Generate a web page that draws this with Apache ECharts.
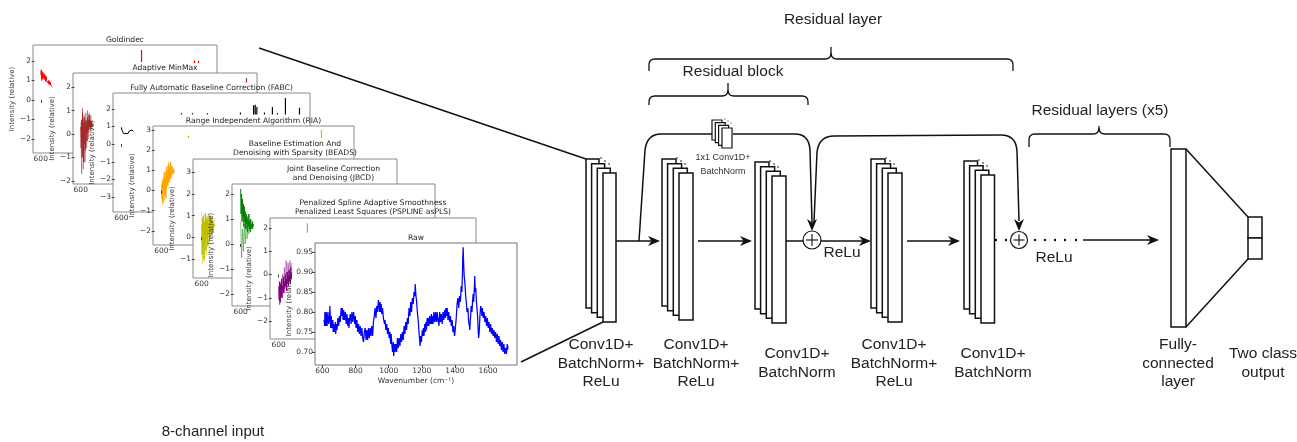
<!DOCTYPE html>
<html><head><meta charset="utf-8">
<script src="https://cdn.jsdelivr.net/npm/echarts@6/dist/echarts.min.js"></script>
<style>html,body{margin:0;padding:0;background:#fff}#c{width:1297px;height:442px}</style>
</head><body><div id="c"></div>
<script>
// ---------------- DATA ----------------
const panelTitles = [
  ['Goldindec'],
  ['Adaptive MinMax'],
  ['Fully Automatic Baseline Correction (FABC)'],
  ['Range Independent Algorithm (RIA)'],
  ['Baseline Estimation And', 'Denoising with Sparsity (BEADS)'],
  ['Joint Baseline Correction', 'and Denoising (JBCD)'],
  ['Penalized Spline Adaptive Smoothness', 'Penalized Least Squares (PSPLINE asPLS)'],
  ['Raw']
];
const smallYTicks = [
  [-2, -1, 0, 1, 2],
  [-2, -1, 0, 1, 2],
  [-3, -2, -1, 0, 1, 2],
  [-2, -1, 0, 1, 2, 3],
  [-1, 0, 1, 2, 3],
  [-2, -1, 0, 1, 2],
  [-2, -1, 0, 1, 2]
];
const smallXTicks = [600];
const rawXTicks = [600, 800, 1000, 1200, 1400, 1600];
const rawYTicks = [0.70, 0.75, 0.80, 0.85, 0.90, 0.95];

const bandWavenumbers = [610,650,690,730,770,810,850,890,930,970,1010,1050,1090,1130,1170,1210,1250,1290,1330,1370,1410,1450,1490,1530,1570,1610,1650,1690,1720];
const faintWavenumbers = [610,690,770,850,930,1010,1090,1170,1250,1330,1410,1490,1570,1650,1720];

const goldindecCore = [1.3,1.55,1.0,1.45,1.1,1.4,1.15,1.35,1.05,1.3,1.1,1.25,0.95,1.2,1.0,1.1,0.9,1.05,0.85,1.0,0.8,0.95,0.78,0.9,0.75,0.85,0.7,0.8,0.68];
const goldindecSpikes = [[10350,1.95,2.56],[15470,1.9,2.03],[15860,1.88,2.0]];

const minmaxCore = [0.3,-0.6,0.6,-1.0,0.9,-0.8,0.5,-1.2,0.7,-0.4,0.4,-0.7,0.6,0.0,0.5,-0.3,0.7,0.1,0.6,0.2,0.8,0.3,0.6,0.2,0.55,0.3,0.5,0.35,0.4];
const minmaxFaint = [0.5,-1.7,1.1,-1.5,0.8,-1.2,0.9,-0.6,1.0,-0.2,0.9,0.1,0.8,0.2,0.6];
const minmaxSpikes = [[16630,2.2,2.38]];

const fabcCore = [0.95,0.8,0.9,0.7,0.85,0.6,0.7,0.55,0.65,0.5,0.6,0.55,0.6,0.58,0.65,0.6,0.7,0.65,0.75,0.7,0.8,0.7,0.75,0.72,0.8,0.75,0.8,0.72,0.8];
const fabcSpikes = [[6035,1.68,1.75],[7030,1.68,1.75],[8380,1.68,1.75],[11365,1.68,1.8],[12550,1.68,2.2],[12700,1.68,2.23],[12850,1.68,2.1],[13535,1.68,1.8],[14255,1.68,2.11],[14710,1.68,1.76],[15430,1.68,2.62],[16700,1.68,2.06]];

const riaCore = [0.3,-0.4,0.5,-0.6,0.6,-0.2,0.9,0.0,0.7,-0.3,1.0,0.1,1.2,0.3,0.9,0.4,1.3,0.5,1.1,0.6,1.4,0.7,1.2,0.8,1.0,0.9,1.1,0.9,1.0];
const riaFaint = [0.0,-0.7,0.4,-0.5,0.8,-0.4,1.0,0.2,1.45,0.4,1.3,0.6,1.2,0.8,1.0];
const riaSpikes = [[2990,2.6,2.72],[14770,2.6,3.0]];

const beadsCore = [0.6,-0.8,0.9,-0.5,1.0,-1.0,0.7,-0.3,1.1,-0.6,0.8,0.0,0.9,-0.4,0.6,0.2,1.0,-0.2,0.7,0.3,0.9,0.1,0.8,0.4,0.7,0.2,0.6,0.5,0.6];
const beadsFaint = [1.2,-1.2,0.9,-1.1,1.1,-0.8,1.0,-0.5,1.1,0.0,1.0,0.3,0.9,0.5,0.8];

const jbcdCore = [2.2,1.2,2.0,0.9,1.8,1.1,1.6,0.7,1.5,0.9,1.3,0.6,1.2,0.8,1.1,0.5,1.0,0.7,1.2,0.6,0.9,0.5,1.0,0.7,0.8,0.6,0.9,0.7,0.8];
const jbcdFaint = [0.9,-0.55,0.6,-0.3,0.8,0.0,1.0,0.2,0.7,0.4,0.9,0.5,0.8,0.6,0.7];

const psplineCore = [-0.5,-1.1,-0.3,-1.2,-0.4,-0.9,-0.2,-1.0,-0.5,-0.7,-0.1,-0.8,-0.3,-0.6,0.0,-0.5,-0.2,-0.7,0.1,-0.4,-0.1,-0.5,0.2,-0.3,0.0,-0.4,0.3,-0.2,0.1];
const psplineFaint = [-0.6,-1.3,-0.4,-1.0,0.0,-0.8,0.3,-0.5,0.6,-0.3,0.5,0.0,0.6,0.2,0.5];
const psplineSpikes = [[3080,1.8,2.2]];

const rawSpectrum = [
[610,0.78],[613,0.765],[615,0.80],[618,0.775],[620,0.765],[623,0.80],[625,0.79],[628,0.765],[630,0.77],[633,0.80],[635,0.795],[638,0.77],[640,0.765],[643,0.79],[645,0.815],[648,0.775],[650,0.76],[653,0.79],[655,0.785],[658,0.76],[660,0.765],[663,0.78],[665,0.75],[668,0.77],[670,0.775],[673,0.75],[675,0.755],[678,0.775],[680,0.745],[683,0.76],[685,0.77],[688,0.755],[690,0.76],[693,0.785],[695,0.78],[698,0.765],[700,0.76],[703,0.79],[705,0.785],[708,0.775],[710,0.79],[713,0.81],[715,0.805],[718,0.79],[720,0.81],[723,0.79],[725,0.78],[728,0.805],[730,0.80],[733,0.78],[735,0.775],[738,0.80],[740,0.795],[743,0.77],[745,0.77],[748,0.795],[750,0.79],[753,0.765],[755,0.765],[758,0.785],[760,0.76],[763,0.78],[765,0.78],[768,0.795],[770,0.79],[773,0.77],[775,0.77],[778,0.80],[780,0.795],[783,0.775],[785,0.775],[788,0.80],[790,0.805],[793,0.78],[795,0.77],[798,0.79],[800,0.78],[803,0.76],[805,0.765],[808,0.78],[810,0.77],[813,0.75],[815,0.75],[818,0.77],[820,0.765],[823,0.745],[825,0.745],[828,0.765],[830,0.76],[833,0.74],[835,0.735],[838,0.76],[840,0.755],[843,0.735],[845,0.74],[848,0.725],[850,0.72],[853,0.75],[855,0.745],[858,0.76],[860,0.75],[863,0.73],[865,0.73],[868,0.755],[870,0.745],[873,0.73],[875,0.735],[878,0.76],[880,0.755],[883,0.735],[885,0.74],[888,0.76],[890,0.755],[893,0.74],[895,0.745],[898,0.765],[900,0.76],[903,0.74],[905,0.745],[908,0.775],[910,0.775],[913,0.79],[915,0.79],[918,0.81],[920,0.805],[923,0.785],[925,0.795],[928,0.815],[930,0.815],[933,0.80],[935,0.805],[938,0.83],[940,0.835],[943,0.81],[945,0.80],[948,0.825],[950,0.815],[953,0.80],[955,0.82],[958,0.795],[960,0.79],[963,0.81],[965,0.805],[968,0.785],[970,0.78],[973,0.79],[975,0.77],[978,0.78],[980,0.775],[983,0.755],[985,0.76],[988,0.77],[990,0.765],[993,0.745],[995,0.745],[998,0.76],[1000,0.755],[1003,0.735],[1005,0.735],[1008,0.75],[1010,0.73],[1013,0.72],[1015,0.745],[1018,0.725],[1020,0.72],[1023,0.70],[1025,0.71],[1028,0.725],[1030,0.69],[1033,0.705],[1035,0.72],[1038,0.70],[1040,0.70],[1043,0.72],[1045,0.725],[1048,0.70],[1050,0.71],[1053,0.735],[1055,0.73],[1058,0.71],[1060,0.715],[1063,0.735],[1065,0.735],[1068,0.715],[1070,0.72],[1073,0.745],[1075,0.745],[1078,0.725],[1080,0.73],[1083,0.75],[1085,0.745],[1088,0.73],[1090,0.735],[1093,0.765],[1095,0.765],[1098,0.745],[1100,0.75],[1103,0.775],[1105,0.77],[1108,0.755],[1110,0.76],[1113,0.785],[1115,0.785],[1118,0.77],[1120,0.79],[1123,0.81],[1125,0.805],[1128,0.79],[1130,0.80],[1133,0.825],[1135,0.82],[1138,0.80],[1140,0.805],[1143,0.835],[1145,0.84],[1148,0.82],[1150,0.83],[1153,0.85],[1155,0.855],[1158,0.84],[1160,0.87],[1163,0.85],[1165,0.84],[1168,0.83],[1170,0.825],[1173,0.80],[1175,0.80],[1178,0.78],[1180,0.77],[1183,0.75],[1185,0.745],[1188,0.725],[1190,0.715],[1193,0.74],[1195,0.745],[1198,0.725],[1200,0.73],[1203,0.755],[1205,0.755],[1208,0.74],[1210,0.76],[1213,0.74],[1215,0.745],[1218,0.77],[1220,0.765],[1223,0.75],[1225,0.775],[1228,0.755],[1230,0.76],[1233,0.785],[1235,0.78],[1238,0.765],[1240,0.785],[1243,0.765],[1245,0.765],[1248,0.79],[1250,0.79],[1253,0.77],[1255,0.775],[1258,0.795],[1260,0.77],[1263,0.765],[1265,0.79],[1268,0.77],[1270,0.78],[1273,0.80],[1275,0.795],[1278,0.775],[1280,0.775],[1283,0.80],[1285,0.80],[1288,0.775],[1290,0.78],[1293,0.80],[1295,0.795],[1298,0.775],[1300,0.785],[1303,0.765],[1305,0.775],[1308,0.80],[1310,0.795],[1313,0.775],[1315,0.78],[1318,0.795],[1320,0.79],[1323,0.77],[1325,0.78],[1328,0.80],[1330,0.80],[1333,0.78],[1335,0.785],[1338,0.805],[1340,0.805],[1343,0.785],[1345,0.81],[1348,0.79],[1350,0.79],[1353,0.81],[1355,0.80],[1358,0.78],[1360,0.785],[1363,0.80],[1365,0.795],[1368,0.775],[1370,0.78],[1373,0.79],[1375,0.785],[1378,0.765],[1380,0.765],[1383,0.78],[1385,0.77],[1388,0.75],[1390,0.755],[1393,0.765],[1395,0.75],[1398,0.74],[1400,0.745],[1403,0.76],[1405,0.76],[1408,0.785],[1410,0.785],[1413,0.82],[1415,0.82],[1418,0.835],[1420,0.835],[1423,0.81],[1425,0.815],[1428,0.84],[1430,0.84],[1433,0.825],[1435,0.83],[1438,0.865],[1440,0.865],[1442,0.85],[1444,0.85],[1446,0.90],[1447,0.93],[1449,0.95],[1450,0.962],[1452,0.93],[1453,0.92],[1455,0.90],[1456,0.89],[1458,0.885],[1460,0.875],[1463,0.855],[1465,0.84],[1468,0.835],[1470,0.82],[1473,0.80],[1475,0.795],[1478,0.81],[1480,0.80],[1483,0.775],[1485,0.77],[1488,0.765],[1490,0.755],[1493,0.78],[1495,0.79],[1498,0.815],[1500,0.82],[1503,0.80],[1505,0.80],[1508,0.835],[1510,0.845],[1513,0.825],[1515,0.83],[1518,0.865],[1520,0.89],[1522,0.86],[1524,0.85],[1526,0.86],[1528,0.84],[1531,0.82],[1533,0.81],[1536,0.795],[1538,0.78],[1541,0.75],[1543,0.735],[1546,0.745],[1548,0.76],[1551,0.79],[1553,0.80],[1556,0.815],[1558,0.82],[1561,0.80],[1563,0.79],[1566,0.81],[1568,0.805],[1571,0.785],[1573,0.78],[1576,0.80],[1578,0.795],[1581,0.775],[1583,0.77],[1586,0.79],[1588,0.785],[1591,0.765],[1593,0.765],[1596,0.785],[1598,0.78],[1601,0.76],[1603,0.755],[1606,0.775],[1608,0.77],[1611,0.75],[1613,0.75],[1616,0.77],[1618,0.765],[1621,0.745],[1623,0.74],[1626,0.76],[1628,0.76],[1631,0.74],[1633,0.735],[1636,0.755],[1638,0.755],[1641,0.735],[1643,0.73],[1646,0.75],[1648,0.745],[1651,0.725],[1653,0.725],[1656,0.745],[1658,0.74],[1661,0.72],[1663,0.72],[1666,0.74],[1668,0.735],[1671,0.715],[1673,0.71],[1676,0.73],[1678,0.73],[1681,0.705],[1683,0.705],[1686,0.725],[1688,0.72],[1691,0.70],[1693,0.70],[1696,0.72],[1698,0.715],[1701,0.695],[1703,0.69],[1706,0.71],[1708,0.715],[1711,0.695],[1713,0.70],[1716,0.72],[1718,0.705],[1720,0.715]
];

// ---------------- LAYOUT / STYLE ----------------
const FONT_PLOT = 'DejaVu Sans';
const FONT_DIAG = '"Liberation Sans", Arial, sans-serif';
const TICK_FS = 7.5, NAME_FS = 7, TITLE_FS = 7.6;
const panels = [
  {left:33, top:45, width:184, height:108, yMin:-2.72, yMax:2.82, nameGap:12},
  {left:73, top:73, width:184, height:111, yMin:-2.13, yMax:2.6, nameGap:13},
  {left:113, top:93, width:197, height:119, yMin:-3.85, yMax:2.9, nameGap:14},
  {left:153, top:126, width:201, height:119, yMin:-2.7, yMax:3.2, nameGap:14},
  {left:193, top:159, width:204, height:119, yMin:-1.87, yMax:3.6, nameGap:14},
  {left:232, top:184, width:203, height:122, yMin:-2.48, yMax:2.4, nameGap:14},
  {left:270, top:218, width:206, height:121, yMin:-2.77, yMax:2.43, nameGap:14},
  {left:315, top:243, width:202, height:122, yMin:0.6675, yMax:0.9725, nameGap:21}
];
const bands = [
  {core:goldindecCore, faint:null, spikes:goldindecSpikes, color:'#ff0000', faintColor:null},
  {core:minmaxCore, faint:minmaxFaint, spikes:minmaxSpikes, color:'#a52a2a', faintColor:'rgba(165,42,42,0.45)'},
  {core:fabcCore, faint:null, spikes:fabcSpikes, color:'#000000', faintColor:null},
  {core:riaCore, faint:riaFaint, spikes:riaSpikes, color:'#ffa500', faintColor:'rgba(255,165,0,0.5)'},
  {core:beadsCore, faint:beadsFaint, spikes:[], color:'#bfbf00', faintColor:'rgba(191,191,0,0.45)'},
  {core:jbcdCore, faint:jbcdFaint, spikes:[], color:'#008000', faintColor:'rgba(0,128,0,0.45)'},
  {core:psplineCore, faint:psplineFaint, spikes:psplineSpikes, color:'#800080', faintColor:'rgba(128,0,128,0.45)'}
];
const minus = s => String(s).replace('-', '\u2212');

const grid = [], xAxis = [], yAxis = [], series = [];
const tickStyle = {fontSize:TICK_FS, color:'#333', fontFamily:FONT_PLOT, margin:2};
panels.forEach((p, i) => {
  const isRaw = i === 7;
  grid.push({left:p.left, top:p.top, width:p.width, height:p.height, show:true,
    backgroundColor:'#fff', borderColor: isRaw ? '#777' : '#8a8a8a', borderWidth:1,
    z:10*i, containLabel:false, outerBoundsMode:'none'});
  const xt = isRaw ? rawXTicks : smallXTicks;
  xAxis.push({gridIndex:i, type:'value', z:10*i+3,
    min: isRaw ? 555 : -150, max: isRaw ? 1775 : 17650,
    axisLine:{show:false}, splitLine:{show:false},
    axisTick:{show:true, length:3, customValues:xt, lineStyle:{color:'#444', width:1}},
    axisLabel:Object.assign({customValues:xt, formatter:v => String(v)}, tickStyle),
    name: isRaw ? 'Wavenumber (cm\u207B\u00B9)' : '', nameLocation:'middle', nameGap:12,
    nameTextStyle:{fontSize:TICK_FS, color:'#333', fontFamily:FONT_PLOT}
  });
  const yt = isRaw ? rawYTicks : smallYTicks[i];
  yAxis.push({gridIndex:i, type:'value', z:10*i+3, min:p.yMin, max:p.yMax,
    axisLine:{show:false}, splitLine:{show:false},
    axisTick:{show:true, length:3, customValues:yt, lineStyle:{color:'#444', width:1}},
    axisLabel:Object.assign({customValues:yt, formatter: v => isRaw ? v.toFixed(2) : minus(v)}, tickStyle),
    name:'Intensity (relative)', nameLocation:'middle', nameRotate:90, nameGap:p.nameGap,
    nameTextStyle:{fontSize:NAME_FS, color:'#333', fontFamily:FONT_PLOT}
  });
});

bands.forEach((b, i) => {
  if (b.faint) {
    series.push({type:'line', xAxisIndex:i, yAxisIndex:i, z:10*i+1, symbol:'none', animation:false, silent:true,
      lineStyle:{color:b.faintColor, width:1}, data:faintWavenumbers.map((w, k) => [w, b.faint[k]])});
  }
  series.push({type:'line', xAxisIndex:i, yAxisIndex:i, z:10*i+2, symbol:'none', animation:false, silent:true,
    lineStyle:{color:b.color, width:1}, data:bandWavenumbers.map((w, k) => [w, b.core[k]])});
  if (b.spikes.length) {
    const d = [];
    b.spikes.forEach(s => { d.push([s[0], s[1]], [s[0], s[2]], [s[0], '-']); });
    series.push({type:'line', xAxisIndex:i, yAxisIndex:i, z:10*i+2, symbol:'none', animation:false, silent:true,
      connectNulls:false, lineStyle:{color: i === 6 ? 'rgba(160,60,160,0.6)' : b.color, width:1.2}, data:d});
  }
});
series.push({type:'line', xAxisIndex:7, yAxisIndex:7, z:72, symbol:'none', animation:false, silent:true,
  lineStyle:{color:'#0000ff', width:1.25}, data:rawSpectrum});

// ---------------- DIAGRAM (graphic) ----------------
const STROKE = '#111';
const els = [];
let zc = 0;
function add(e){ e.z = 200; e.z2 = zc++; e.silent = true; els.push(e); }
function ln(x1,y1,x2,y2,w){ add({type:'line', shape:{x1,y1,x2,y2}, style:{stroke:STROKE, lineWidth:w||1.5}}); }
function qb(x1,y1,cx,cy,x2,y2,w){ add({type:'bezierCurve', shape:{x1,y1,x2,y2,cpx1:cx,cpy1:cy}, style:{stroke:STROKE, lineWidth:w||1.5, fill:null}}); }
function rect(x,y,w,h,lw){ add({type:'rect', shape:{x,y,width:w,height:h}, style:{fill:'#fff', stroke:STROKE, lineWidth:lw||1.5}}); }
function dot(x,y,r){ add({type:'circle', shape:{cx:x, cy:y, r:r||1.2}, style:{fill:STROKE}}); }
function poly(pts){ add({type:'polygon', shape:{points:pts}, style:{fill:STROKE}}); }
function arrowR(x1,y,tip){ ln(x1,y,tip-8,y); poly([[tip,y],[tip-12,y-5],[tip-8.5,y],[tip-12,y+5]]); }
function headDown(x,tip){ poly([[x,tip],[x-5,tip-12],[x,tip-8.5],[x+5,tip-12]]); }
function plusCircle(cx,cy,r){
  add({type:'circle', shape:{cx,cy,r}, style:{fill:'#fff', stroke:STROKE, lineWidth:1.2}});
  ln(cx-r+3,cy,cx+r-3,cy,1.1); ln(cx,cy-r+3,cx,cy+r-3,1.1);
}
function stack(x,y,w,h,off,lw,dotsOn){
  off.forEach(o => rect(x+o[0], y+o[1], w, h, lw));
  if (dotsOn) { dot(x+15,y-1,0.8); dot(x+19,y+2,0.8); dot(x+23,y+5,0.8); }
}
const BIG_OFF = [[0,0],[5.6,4.7],[11.3,9.3],[17,14]];
const SMALL_OFF = [[0,0],[3.3,2.7],[6.6,5.4],[10,8]];
function txt(s,x,y,size,color,family){
  add({type:'text', style:{text:s, x, y, fill:color||'#222', font:size+'px '+(family||FONT_DIAG),
    textAlign:'center', textVerticalAlign:'middle', align:'center', verticalAlign:'middle'}});
}
function brace(x1,x2,yb,ye,xn,yt){
  const r = 6, w = 1.3;
  ln(x1,ye,x1,yb+r,w); qb(x1,yb+r,x1,yb,x1+r,yb,w);
  ln(x1+r,yb,xn-r,yb,w); qb(xn-r,yb,xn,yb,xn,yb-r,w);
  ln(xn,yb-r,xn,yt,w);
  qb(xn,yb-r,xn,yb,xn+r,yb,w); ln(xn+r,yb,x2-r,yb,w);
  qb(x2-r,yb,x2,yb,x2,yb+r,w); ln(x2,yb+r,x2,ye,w);
}

// panel titles (plot text)
panels.forEach((p, i) => {
  const cx = p.left + p.width / 2;
  const t = panelTitles[i];
  if (t.length === 1) txt(t[0], cx, p.top - 4.5, TITLE_FS, '#222', FONT_PLOT);
  else { txt(t[0], cx, p.top - 14.5, TITLE_FS, '#222', FONT_PLOT); txt(t[1], cx, p.top - 5.5, TITLE_FS, '#222', FONT_PLOT); }
});

// fan-in lines
ln(259,48,586,159); ln(521,362,603,322);
// conv stacks
stack(586,159,13,149,BIG_OFF,1.5,true);
stack(662,159,14,147,BIG_OFF,1.5,true);
stack(755,162,14,147,BIG_OFF,1.5,true);
stack(871,159,14,149,BIG_OFF,1.5,true);
stack(964,161,13.5,148,BIG_OFF,1.5,true);
// main flow
arrowR(616,241,660);
arrowR(698,241,752);
ln(786,241,803,241);
arrowR(821,241,871);
arrowR(907,241,960);
dot(996,240); dot(1006,240);
dot(1035,240); dot(1045,240); dot(1055,240); dot(1065,240); dot(1076,240);
arrowR(1083,240,1159);
// skip connection 1
ln(639,241,645,150); qb(645,150,647,134,661,134); ln(661,134,712,134);
ln(733,134,795,134); qb(795,134,809,134,810,150); ln(810,150,812,222); headDown(812,231);
stack(712,120,10,20,SMALL_OFF,1.2,false);
dot(725,119,0.6); dot(728,121,0.6); dot(731,123,0.6);
// skip connection 2
ln(814,222,817,152); qb(817,152,819,136,834,136); ln(834,136,1001,135);
qb(1001,135,1016,135,1017,151); ln(1017,151,1019,221); headDown(1019,231);
plusCircle(812,240,9);
plusCircle(1019,240,8.5);
// fully connected + output
rect(1171,149,15,178);
ln(1186,149,1248,217); ln(1186,327,1248,259);
rect(1248,217,14,21); rect(1248,238,14,21);
// braces
brace(649,1013,59,71,831,47);
brace(649,808,96,105,728,83);
brace(1029,1170,134,147,1099,126);
// texts
txt('Residual layer',833,20,15.5);
txt('Residual block',733,72,15.5);
txt('Residual layers (x5)',1100,111,15.5);
txt('1x1 Conv1D+',723,158,9,'#333');
txt('BatchNorm',723,172,9,'#333');
txt('ReLu',842,253,15.5);
txt('ReLu',1054,258,15.5);
const labelRows3 = [345,363.5,382], labelRows2 = [354,373];
[['Conv1D+','BatchNorm+','ReLu',601],['Conv1D+','BatchNorm+','ReLu',696],['Conv1D+','BatchNorm+','ReLu',894],['Fully-','connected','layer',1178]]
  .forEach(a => { txt(a[0],a[3],labelRows3[0],15.5); txt(a[1],a[3],labelRows3[1],15.5); txt(a[2],a[3],labelRows3[2],15.5); });
[['Conv1D+','BatchNorm',797],['Conv1D+','BatchNorm',993],['Two class','output',1263]]
  .forEach(a => { txt(a[0],a[2],labelRows2[0],15.5); txt(a[1],a[2],labelRows2[1],15.5); });
txt('8-channel input',213,432,15);

const chart = echarts.init(document.getElementById('c'), null, {renderer:'canvas', width:1297, height:442});
chart.setOption({
  backgroundColor:'#fff',
  animation:false,
  grid, xAxis, yAxis, series,
  graphic:{z:200, elements:els}
});
</script></body></html>
